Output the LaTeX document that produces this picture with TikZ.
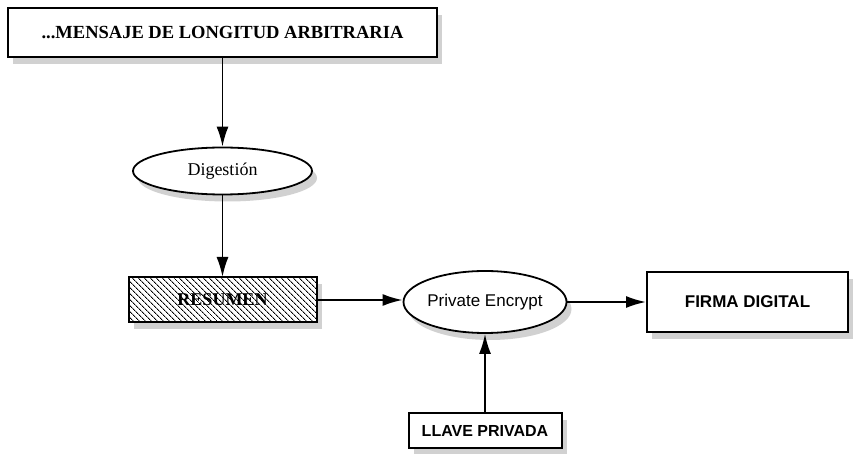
\documentclass[tikz,border=0pt]{standalone}
\usepackage{fontspec}
\setmainfont{Liberation Serif}
\setsansfont{Liberation Sans}
\usepackage{tikz}
\usetikzlibrary{arrows.meta, shapes.geometric, shadows, patterns.meta}

\tikzset{
    sombra/.style={drop shadow={shadow xshift=5pt, shadow yshift=-7pt, fill=gray!45, opacity=0.8}},
    caja/.style={draw, line width=2pt, sombra, fill=white, inner sep=2pt},
    ovalo/.style={ellipse, draw, line width=1.8pt, sombra, fill=white, inner sep=0pt},
    rayado/.style={draw, line width=2pt, sombra, preaction={fill=white},
        pattern={Lines[angle=-45, distance=4pt, line width=1pt]}},
    flecha/.style={-{Latex[length=20pt, width=12pt]}, line width=1.9pt},
}

\begin{document}
\begin{tikzpicture}[x=1pt, y=-1pt]
    \useasboundingbox (0,0) rectangle (857,454);

    % Mensaje y digestión
    \node[caja, minimum width=429pt, minimum height=49pt,
        font=\bfseries\fontsize{18.5}{20}\selectfont] (msg) at (222.5,32.5)
        {...MENSAJE DE LONGITUD ARBITRARIA};
    \node[ovalo, minimum width=179pt, minimum height=47pt,
        font=\fontsize{18}{20}\selectfont] (dig) at (222.5,171) {Digestión};
    \node[rayado, minimum width=188pt, minimum height=45pt,
        font=\bfseries\fontsize{18}{20}\selectfont] (res) at (222.5,300) {RESUMEN};

    % Cifrado con la llave privada
    \node[ovalo, minimum width=154pt, minimum height=62pt,
        font=\sffamily\fontsize{17}{19}\selectfont] (enc) at (485,302) {Private Encrypt};
    \node[caja, minimum width=201pt, minimum height=60pt,
        font=\sffamily\bfseries\fontsize{17}{19}\selectfont] (firma) at (747.5,302) {FIRMA DIGITAL};
    \node[caja, minimum width=153pt, minimum height=35pt,
        font=\sffamily\bfseries\fontsize{16}{18}\selectfont] (llave) at (485,430.5) {LLAVE PRIVADA};

    % Flechas
    \draw[flecha] (msg) -- (dig);
    \draw[flecha] (dig) -- (res);
    \draw[flecha] (res.east) -- (res.east -| enc.west);
    \draw[flecha] (enc) -- (firma);
    \draw[flecha] (llave) -- (enc);
\end{tikzpicture}
\end{document}
